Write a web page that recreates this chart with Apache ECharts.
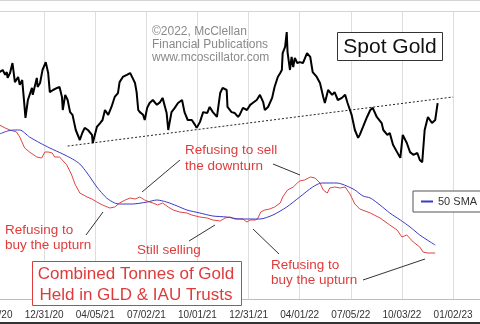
<!DOCTYPE html>
<html><head><meta charset="utf-8">
<script src="https://cdn.jsdelivr.net/npm/echarts@6/dist/echarts.min.js"></script>
<style>html,body{margin:0;padding:0;background:#fff}#c{width:480px;height:324px}</style>
</head><body><div id="c"></div>
<script>
// x = trading days since 09/30/20 (about 63 per quarter)
const tickLabels = ['09/30/20','12/31/20','04/05/21','07/02/21','10/01/21','12/31/21','04/01/22','07/05/22','10/03/22','01/02/23'];

// Spot gold, $/oz
const goldSeries = [[8,1938],[12,1945],[15,1929],[17,1938],[18,1919],[21,1935],[24,1968],[27,1905],[31,1922],[33,1896],
[36,1912],[39,1820],[40,1787],[43,1846],[48,1886],[49,1863],[54,1919],[55,1889],[58,1902],[61,1945],
[65,1971],[68,1935],[70,1872],[74,1879],[79,1886],[82,1889],[85,1856],[86,1813],[89,1863],[92,1846],
[95,1806],[98,1797],[102,1747],[107,1714],[110,1737],[113,1754],[117,1747],[122,1731],[123,1704],[128,1757],
[132,1770],[135,1780],[138,1813],[142,1797],[146,1823],[150,1856],[154,1869],[156,1905],[160,1922],[165,1929],
[169,1935],[172,1919],[175,1902],[177,1872],[179,1813],[181,1806],[185,1797],[187,1780],[190,1820],[193,1836],
[197,1846],[202,1830],[206,1839],[209,1853],[214,1803],[216,1747],[220,1806],[224,1820],[228,1836],[233,1846],
[236,1806],[240,1780],[245,1780],[249,1764],[251,1754],[255,1773],[259,1806],[264,1803],[267,1823],[271,1806],
[276,1790],[280,1869],[283,1886],[288,1879],[289,1823],[294,1806],[298,1803],[302,1790],[304,1797],[308,1820],
[313,1813],[317,1830],[320,1836],[325,1846],[329,1863],[331,1869],[333,1839],[335,1813],[339,1823],[344,1853],
[347,1889],[351,1922],[354,1935],[356,1945],[357,2001],[360,2021],[362,2070],[363,2004],[366,1945],[368,1988],
[370,1955],[372,1985],[375,1968],[378,1971],[382,1968],[387,2001],[388,2004],[391,1988],[394,1938],[399,1922],
[403,1902],[407,1856],[409,1836],[413,1879],[418,1863],[421,1872],[425,1846],[430,1853],[434,1863],[437,1836],
[442,1797],[446,1747],[450,1721],[452,1731],[456,1757],[461,1790],[465,1813],[468,1820],[473,1790],[479,1770],
[481,1747],[486,1731],[489,1737],[493,1698],[498,1674],[502,1655],[505,1731],[510,1704],[514,1674],[518,1665],
[523,1671],[526,1648],[529,1641],[532,1747],[536,1790],[541,1770],[545,1780],[548,1836]];

// Dotted support trendline on gold
const trendSeries = [[92,1694],[567,1856]];

// Combined GLD + IAU holdings, tonnes
const holdingsSeries = [[8,1790],[15,1778],[21,1770],[29,1762],[33,1742],[39,1698],[45,1682],[54,1662],[60,1658],[64,1682],
[68,1682],[73,1678],[76,1662],[82,1662],[91,1630],[97,1590],[101,1554],[107,1518],[116,1502],[122,1494],
[128,1482],[135,1470],[144,1458],[150,1462],[156,1478],[163,1490],[169,1498],[175,1494],[181,1502],[187,1490],
[193,1482],[197,1478],[203,1470],[209,1478],[216,1462],[222,1450],[230,1442],[239,1438],[245,1430],[255,1422],
[264,1418],[271,1410],[280,1406],[286,1418],[292,1422],[298,1414],[304,1414],[308,1414],[313,1402],[317,1410],
[323,1410],[326,1414],[330,1442],[335,1450],[341,1454],[347,1462],[354,1478],[357,1502],[363,1530],[370,1542],
[375,1558],[378,1566],[384,1570],[391,1582],[397,1578],[403,1558],[407,1530],[412,1518],[415,1538],[421,1542],
[428,1538],[434,1542],[440,1514],[446,1474],[452,1454],[465,1438],[477,1418],[489,1390],[498,1370],[504,1342],
[510,1350],[518,1322],[526,1302],[530,1282],[536,1278],[545,1278]];

// 50-day SMA of holdings
const smaSeries = [[8,1754],[18,1766],[27,1770],[33,1770],[45,1742],[58,1718],[70,1698],[86,1674],[98,1654],[107,1634],
[116,1598],[128,1542],[140,1498],[150,1478],[156,1474],[172,1474],[190,1482],[202,1490],[214,1482],[227,1466],
[239,1450],[255,1438],[271,1426],[288,1422],[304,1414],[329,1414],[345,1430],[362,1462],[378,1502],[394,1542],
[405,1558],[424,1558],[436,1546],[446,1530],[456,1506],[465,1498],[477,1470],[489,1438],[502,1410],[514,1382],
[526,1350],[539,1322],[545,1310]];

const FONT = '"Liberation Sans", Arial, sans-serif';
const RED = '#df3b3b';
const chart = echarts.init(document.getElementById('c'), null, {renderer: 'canvas'});

function text(x, y, t, size, color, align, vAlign) {
  return {type: 'text', x: x, y: y, z: 110,
    style: {text: t, fontSize: size, fontFamily: FONT, fill: color, align: align || 'left', verticalAlign: vAlign || 'middle'}};
}
function seg(x1, y1, x2, y2) {
  return {type: 'line', z: 105, shape: {x1: x1, y1: y1, x2: x2, y2: y2}, style: {stroke: '#333', lineWidth: 1}};
}

chart.setOption({
  animation: false,
  backgroundColor: '#fff',
  grid: {left: -7, right: 0, top: 11, bottom: 25, show: false, containLabel: false, outerBoundsMode: 'none'},
  xAxis: {
    type: 'value', min: 0, max: 600.2, interval: 63,
    axisLine: {show: true, lineStyle: {color: '#bdbdbd', width: 1}},
    axisTick: {show: false},
    splitLine: {show: true, lineStyle: {color: '#dedede', width: 1}},
    axisLabel: {
      margin: 11, fontSize: 10, color: '#333', fontFamily: FONT, hideOverlap: false,
      formatter: function (v) { const i = v / 63; return (Number.isInteger(i) && tickLabels[i]) ? tickLabels[i] : ''; }
    }
  },
  yAxis: [
    {type: 'value', min: 1189.3, max: 2139.7, show: false, splitLine: {show: false}},
    {type: 'value', min: 1094, max: 2246, show: false, splitLine: {show: false}}
  ],
  legend: {
    data: ['50 SMA'], left: 413, top: 191, padding: [5, 40, 5, 8],
    icon: 'rect', itemWidth: 12, itemHeight: 2,
    backgroundColor: '#fff', borderColor: '#555', borderWidth: 1,
    textStyle: {fontSize: 11, color: '#333', fontFamily: FONT}
  },
  series: [
    {name: 'Holdings', type: 'line', yAxisIndex: 1, data: holdingsSeries, symbol: 'none',
      lineStyle: {color: '#e04444', width: 1}, itemStyle: {color: '#e04444'}, z: 3},
    {name: '50 SMA', type: 'line', yAxisIndex: 1, data: smaSeries, symbol: 'none', smooth: 0.25,
      lineStyle: {color: '#3a3ac8', width: 1}, itemStyle: {color: '#3a3ac8'}, z: 3},
    {name: 'Trend', type: 'line', yAxisIndex: 0, data: trendSeries, symbol: 'none',
      lineStyle: {color: '#222', width: 1, type: [2, 2]}, z: 4},
    {name: 'Spot Gold', type: 'line', yAxisIndex: 0, data: goldSeries, symbol: 'none',
      lineStyle: {color: '#000', width: 2}, itemStyle: {color: '#000'}, z: 5}
  ],
  graphic: [
    {type: 'line', z: 100, shape: {x1: 0, y1: 0.5, x2: 480, y2: 0.5}, style: {stroke: '#d4d4d4', lineWidth: 1}},
    {type: 'line', z: 100, shape: {x1: 0, y1: 11.5, x2: 480, y2: 11.5}, style: {stroke: '#d4d4d4', lineWidth: 1}},
    {type: 'rect', z: 100, shape: {x: 0, y: 322, width: 480, height: 2}, style: {fill: '#333'}},
    text(152, 31.7, '©2022, McClellan', 12, '#8a8a8a'),
    text(152, 44.5, 'Financial Publications', 12, '#8a8a8a'),
    text(152, 57.3, 'www.mcoscillator.com', 12, '#8a8a8a'),
    {type: 'rect', z: 106, shape: {x: 337.5, y: 32.5, width: 105, height: 28}, style: {fill: '#fff', stroke: '#333', lineWidth: 1}},
    text(390, 47, 'Spot Gold', 21, '#111', 'center'),
    {type: 'rect', z: 106, shape: {x: 32.5, y: 261.5, width: 209, height: 44}, style: {fill: '#fff', stroke: RED, lineWidth: 1}},
    text(136, 274, 'Combined Tonnes of Gold', 17, RED, 'center'),
    text(136, 295, 'Held in GLD & IAU Trusts', 17, RED, 'center'),
    text(185, 150, 'Refusing to sell', 13.5, RED),
    text(185, 166, 'the downturn', 13.5, RED),
    text(5, 230, 'Refusing to', 13.5, RED),
    text(5, 245.5, 'buy the upturn', 13.5, RED),
    text(137, 250, 'Still selling', 13.5, RED),
    text(271, 265, 'Refusing to', 13.5, RED),
    text(271, 280.5, 'buy the upturn', 13.5, RED),
    seg(142, 192, 180, 160),
    seg(273, 164, 300, 175),
    seg(86, 235, 103, 212),
    seg(189, 241, 215, 225),
    seg(253, 229, 279, 254),
    seg(363, 280, 425, 259)
  ]
});
</script></body></html>
